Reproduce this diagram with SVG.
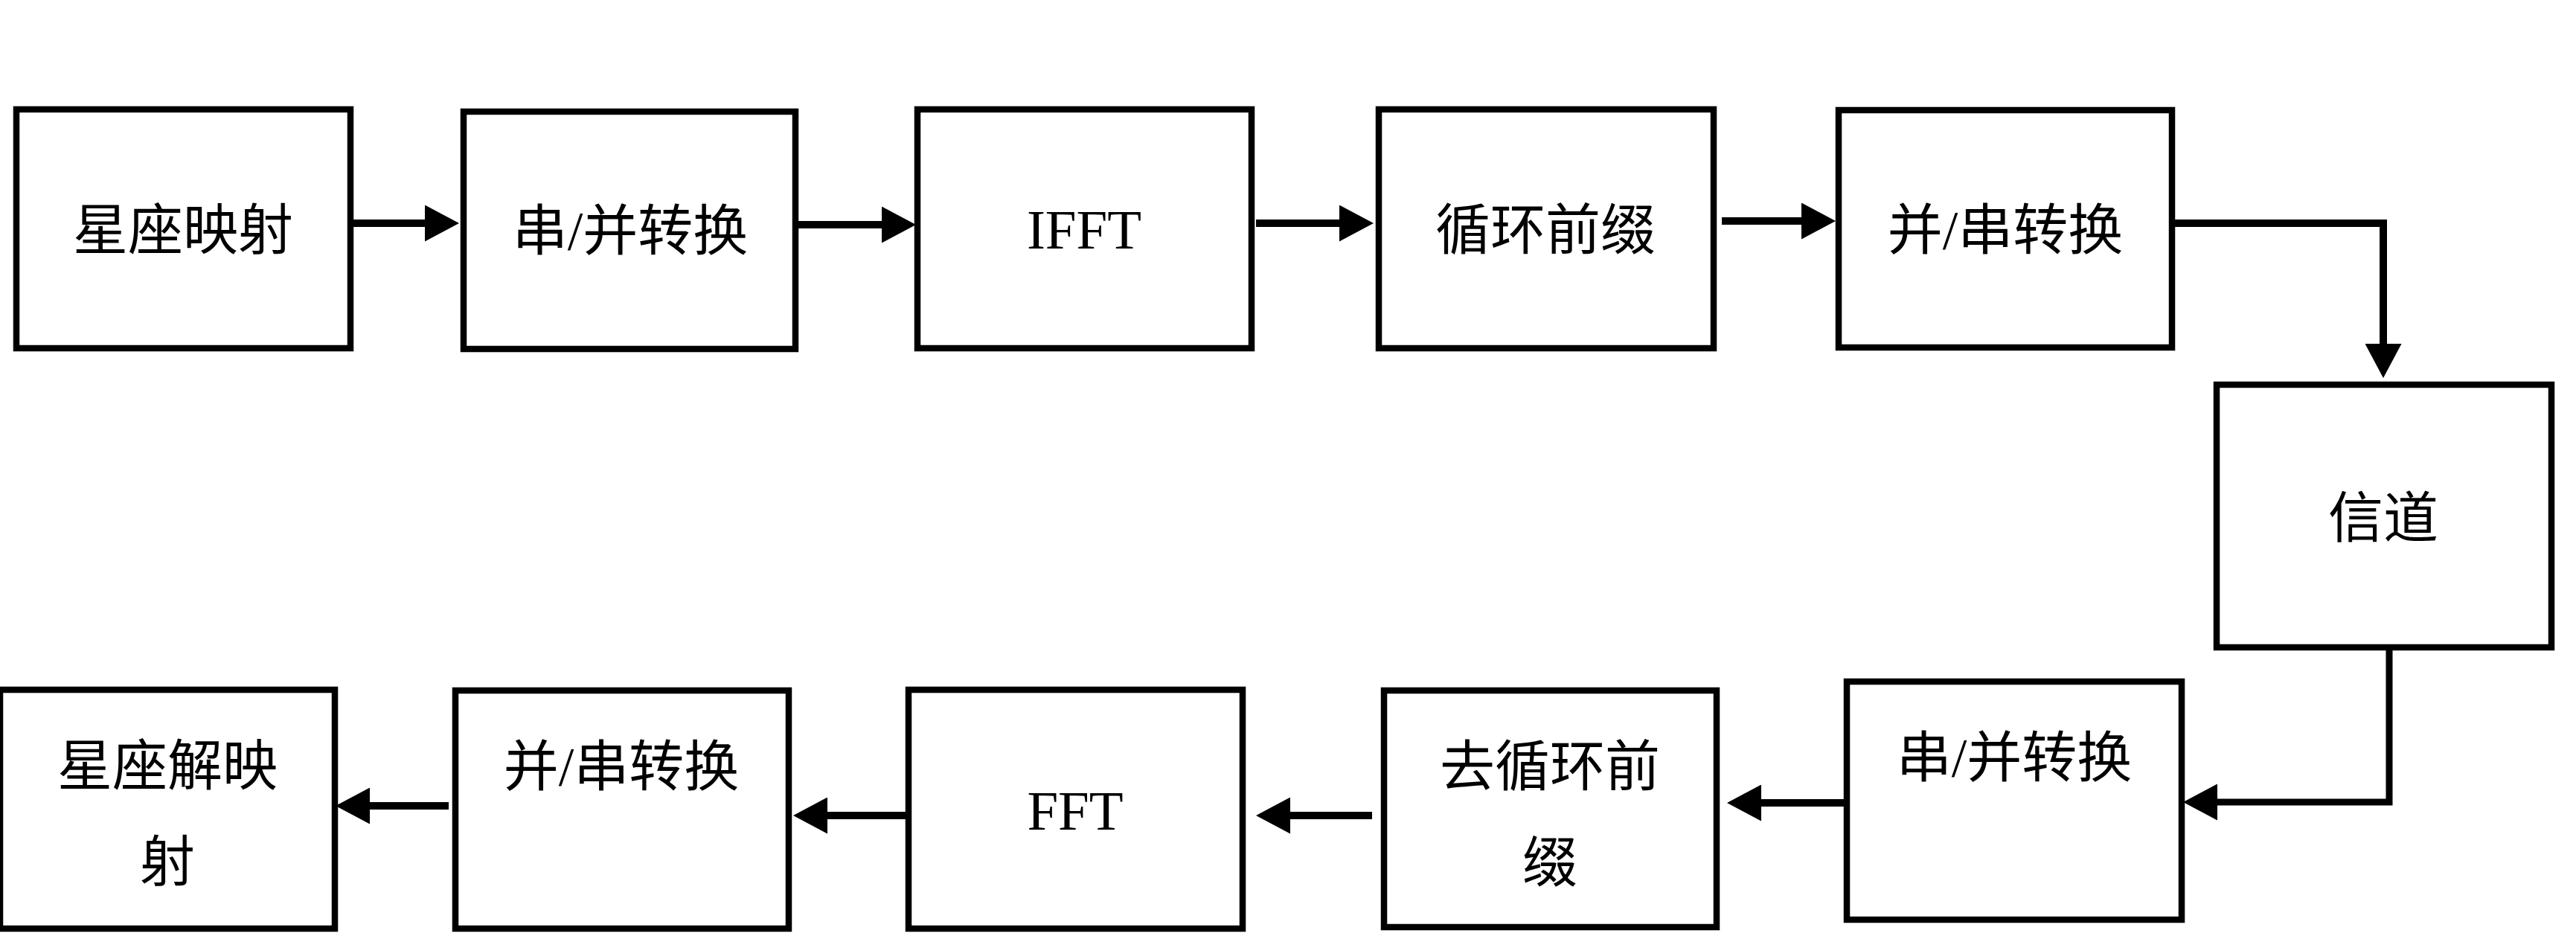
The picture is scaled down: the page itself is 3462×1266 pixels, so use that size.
<svg xmlns="http://www.w3.org/2000/svg" width="3462" height="1266" viewBox="0 0 3462 1266">
<style>
.box{fill:#fff;stroke:#000;stroke-width:8.5}
.lbl{font-family:"Liberation Serif","Noto Sans CJK SC",serif;font-size:74px;fill:#000;text-anchor:middle}
.lat{font-family:"Liberation Serif",serif;font-size:75px;fill:#000;text-anchor:middle}
.conn{fill:none;stroke:#000;stroke-width:10;stroke-linejoin:miter;marker-end:url(#ah)}
</style>
<defs>
<marker id="ah" markerUnits="userSpaceOnUse" viewBox="0 0 46 49" markerWidth="46" markerHeight="49" refX="6" refY="24.5" orient="auto">
<path d="M0,0 L46,24.5 L0,49 Z" fill="#000"/>
</marker>
</defs>
<rect width="3462" height="1266" fill="#fff"/>
<g id="n1"><rect class="box" x="22" y="147" width="449" height="321"/><text class="lbl" x="246" y="335">星座映射</text></g>
<g id="n2"><rect class="box" x="623" y="150" width="446" height="319"/><text class="lbl" x="847" y="336">串/并转换</text></g>
<g id="n3"><rect class="box" x="1233" y="147" width="449" height="321"/><text class="lat" x="1457" y="334">IFFT</text></g>
<g id="n4"><rect class="box" x="1853" y="147" width="450" height="321"/><text class="lbl" x="2077" y="335">循环前缀</text></g>
<g id="n5"><rect class="box" x="2471" y="148" width="448" height="319"/><text class="lbl" x="2695" y="335">并/串转换</text></g>
<g id="n6"><rect class="box" x="2979" y="517" width="450" height="353"/><text class="lbl" x="3203" y="722">信道</text></g>
<g id="n7"><rect class="box" x="2482" y="916" width="450" height="320"/><text class="lbl" x="2707" y="1044">串/并转换</text></g>
<g id="n8"><rect class="box" x="1860" y="928" width="447" height="318"/><text class="lbl" x="2083" y="1056">去循环前</text><text class="lbl" x="2083" y="1185">缀</text></g>
<g id="n9"><rect class="box" x="1221" y="927" width="449" height="321"/><text class="lat" x="1445" y="1115">FFT</text></g>
<g id="n10"><rect class="box" x="612" y="928" width="448" height="320"/><text class="lbl" x="835" y="1056">并/串转换</text></g>
<g id="n11"><rect class="box" x="0" y="927" width="450" height="321"/><text class="lbl" x="225" y="1055">星座解映</text><text class="lbl" x="225" y="1184">射</text></g>
<g id="connectors">
<path class="conn" d="M475,300 H577"/>
<path class="conn" d="M1073,302 H1191"/>
<path class="conn" d="M1688,300 H1806"/>
<path class="conn" d="M2314,297 H2427"/>
<path class="conn" d="M2923,300 H3203 V468"/>
<path class="conn" style="stroke-width:9" d="M3211,874 V1078 H2974"/>
<path class="conn" d="M2478,1079 H2361"/>
<path class="conn" d="M1844,1096 H1728"/>
<path class="conn" d="M1217,1096 H1106"/>
<path class="conn" d="M603,1083 H491"/>
</g>
</svg>
